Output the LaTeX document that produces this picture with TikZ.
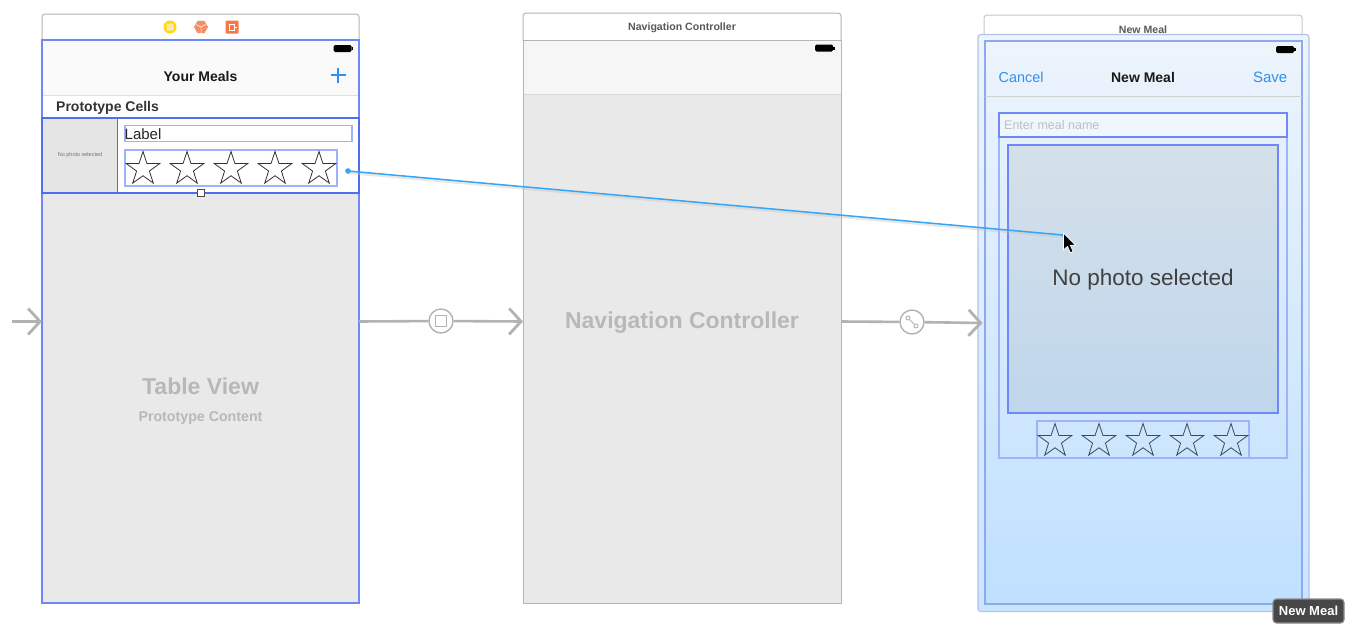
\documentclass[tikz,border=0pt]{standalone}
\usepackage{fontspec}
\setmainfont{Liberation Sans}
\usetikzlibrary{shapes.geometric,arrows.meta,calc}
\definecolor{selblue}{HTML}{6F88F5}
\definecolor{cellblue}{HTML}{4F6FF2}
\definecolor{softblue}{HTML}{9DB4FA}
\definecolor{frameline}{HTML}{B5B5B5}
\definecolor{graybody}{HTML}{E9E9E9}
\definecolor{segue}{HTML}{B2B2B2}
\definecolor{ios}{HTML}{2E8FF0}
\definecolor{iconorange}{HTML}{F5794A}
\definecolor{drag}{HTML}{35A5F5}
\definecolor{sceneTop}{HTML}{EDF4FC}
\definecolor{sceneBot}{HTML}{BFE0FF}
\definecolor{outerBot}{HTML}{CBE5FF}
\definecolor{outerLine}{HTML}{AFC4E8}
\definecolor{viewLine}{HTML}{8DA9F0}
\definecolor{photoTop}{HTML}{D5E0E9}
\definecolor{photoBot}{HTML}{BFD6EC}
\definecolor{fieldFill}{HTML}{EFF6FE}
\definecolor{starInk}{HTML}{3C4A5C}
\tikzset{
  x=1pt,y=-1pt,
  box/.style={rectangle,inner sep=0pt,outer sep=0pt,anchor=north west},
  titlebar/.style={box,draw=frameline,fill=white,line width=1pt,rounded corners=3pt},
  ratingstar/.style={star,star points=5,star point ratio=2.6,draw=#1,fill=none,line width=.8pt,minimum size=35pt,inner sep=0pt},
  ratingstar/.default=black!80,
  segueline/.style={draw=segue,line width=2.6pt},
  seguetip/.style={segueline,-{Straight Barb[length=12pt,width=26pt,line width=2.8pt]}},
  seguecircle/.style={circle,draw=segue,fill=white,line width=1.4pt,minimum size=24pt,inner sep=0pt},
  navtitle/.style={font=\fontsize{14}{14}\selectfont\bfseries,text=black!90},
  scenetitle/.style={font=\fontsize{10.6}{10.6}\selectfont\bfseries,text=black!65},
  barbtn/.style={font=\fontsize{14.4}{14.4}\selectfont,text=ios},
  placeholder/.style={font=\fontsize{23}{23}\selectfont\bfseries,text=black!28},
  battery/.style={box,fill=black,rounded corners=1.5pt,minimum width=18pt,minimum height=7pt},
}
\newcommand{\mkbattery}[3]{%
  \node[battery] (#1) at (#2,#3) {};
  \fill (#1.east) ++(0,-1.5) rectangle ++(1.5,3);
}
\begin{document}
\begin{tikzpicture}
\useasboundingbox (0,0) rectangle (1360,640);
\fill[white] (0,0) rectangle (1360,640);

% ---------- Scene 1 ----------
\node[titlebar,minimum width=317pt,minimum height=30pt] (head1) at (42,14) {};
\node[box,fill=white,minimum width=317pt,minimum height=563pt] (view1) at (42,40) {};
\node[box,fill=graybody,minimum width=316pt,minimum height=410pt] (table1) at (43,193) {};
\node[box,fill=black!2,minimum width=316pt,minimum height=54pt] (nav1) at (43,41) {};
\draw[black!12,line width=.8pt] (nav1.south west) -- (nav1.south east);
\draw[selblue,line width=1.5pt] (view1.north west) rectangle (view1.south east);
\node[circle,fill=yellow!80!orange,minimum size=13pt,inner sep=0pt] (ic1) at (170,27) {};
\node[box,anchor=center,fill=yellow!25!orange!25,minimum size=7pt,rounded corners=1pt] (ic1b) at (170,27) {};
\node[regular polygon,regular polygon sides=6,fill=iconorange!85,minimum size=14pt,inner sep=0pt] (ic2) at (201,27) {};
\draw[white,line width=.5pt] (ic2.center) -- ++(-5,-2.5) (ic2.center) -- ++(5,-2.5) (ic2.center) -- ++(0,6);
\node[box,anchor=center,fill=iconorange,minimum size=13pt,rounded corners=1pt] (ic3) at (232,27) {};
\draw[white,line width=.9pt] (229,24) rectangle (234,30) (234,27) -- (237,27);
\mkbattery{bat1}{333.5}{45}
\node[navtitle] (title1) at (200.5,76) {Your Meals};
\node[box,minimum size=15pt,anchor=center] (plus) at (338,75) {};
\draw[ios,line width=1.2pt] (plus.north) -- (plus.south) (plus.west) -- (plus.east);
\node[anchor=west,inner sep=0pt,font=\fontsize{14}{14}\selectfont\bfseries,text=black!80] (proto) at (56,108) {Prototype Cells};
\node[box,fill=white,draw=none,minimum width=317pt,minimum height=75pt] (cell) at (42,118) {};
\node[box,fill=black!10,minimum width=74pt,minimum height=74pt] (photo1) at (43,118.5) {};
\node[font=\fontsize{5.5}{5.5}\selectfont,text=black!55] (photo1t) at (80,155.5) {No photo selected};
\draw[cellblue,line width=1.3pt] (cell.north west) rectangle (cell.south east);
\draw[cellblue,line width=.9pt] (photo1.north east) -- (photo1.south east);
\node[box,draw=softblue,line width=1.3pt,fill=white,minimum width=227pt,minimum height=16pt,anchor=north west] (label) at (125,125.5) {};
\node[anchor=west,inner sep=0pt,font=\fontsize{15}{15}\selectfont,text=black!85] (labelt) at (124.5,134) {Label};
\node[box,draw=softblue,line width=1.3pt,minimum width=212pt,minimum height=36pt] (rating1) at (125,150) {};
\foreach \i/\x in {a/143,b/187,c/231,d/275,e/319}
  \node[ratingstar] (s1\i) at (\x,169) {};
\node[box,anchor=center,draw=black!70,fill=white,line width=.9pt,minimum size=7pt] (grip) at (200.5,193) {};
\node[placeholder] (tv) at (200.5,386) {Table View};
\node[font=\fontsize{14.2}{14.2}\selectfont\bfseries,text=black!28] (pc) at (200.5,418) {Prototype Content};

% ---------- Scene 2 ----------
\node[titlebar,minimum width=318pt,minimum height=30pt] (head2) at (523,13) {};
\node[box,fill=graybody,draw=frameline,line width=1pt,minimum width=318pt,minimum height=563pt] (view2) at (523,40) {};
\node[box,fill=black!3.5,minimum width=317pt,minimum height=54pt] (nav2) at (523.5,40.5) {};
\draw[black!15,line width=.8pt] (nav2.south west) -- (nav2.south east);
\node[scenetitle] (t2) at (682,28) {Navigation Controller};
\mkbattery{bat2}{815}{44.5}
\node[placeholder] (nc) at (682,323) {Navigation Controller};

% ---------- Scene 3 ----------
\node[titlebar,draw=black!22,minimum width=318pt,minimum height=30pt] (head3) at (984,15) {};
\node[scenetitle] (t3) at (1143,29.5) {New Meal};
\node[box,draw=outerLine,line width=1.2pt,top color=sceneTop,bottom color=outerBot,rounded corners=3pt,minimum width=331pt,minimum height=577pt] (sel3) at (978,34.5) {};
\node[box,top color=sceneTop,bottom color=sceneBot,minimum width=317pt,minimum height=563pt] (view3) at (985,41) {};
\draw[viewLine,line width=1.5pt] (view3.north west) rectangle (view3.south east);
\draw[black!18,line width=.8pt] (985,96) -- (1302,96);
\mkbattery{bat3}{1276}{46}
\node[barbtn,anchor=west,inner sep=0pt] (cancel) at (998.5,77) {Cancel};
\node[navtitle] (t3b) at (1143,77) {New Meal};
\node[anchor=east,inner sep=0pt,text=ios,font=\fontsize{15}{15}\selectfont] (save) at (1287.5,77) {Save};
\node[box,draw=softblue,line width=1.2pt,minimum width=288pt,minimum height=321pt] (stack3) at (999,137) {};
\node[box,draw=selblue,line width=1.2pt,fill=fieldFill,minimum width=288pt,minimum height=24pt] (field) at (999,113) {};
\node[anchor=west,inner sep=0pt,font=\fontsize{12.5}{12.5}\selectfont,text=black!25] (fieldt) at (1004,125) {Enter meal name};
\node[box,draw=selblue,line width=1.2pt,top color=photoTop,bottom color=photoBot,minimum width=270pt,minimum height=268pt] (photo3) at (1008,145) {};
\node[font=\fontsize{22.5}{22.5}\selectfont,text=black!75] (photo3t) at (1143,280) {No photo selected};
\node[box,draw=softblue,line width=1.2pt,minimum width=212pt,minimum height=37pt] (rating3) at (1037,421) {};
\foreach \i/\x in {a/1055,b/1099,c/1143,d/1187,e/1231}
  \node[ratingstar=starInk] (s3\i) at (\x,441) {};

% ---------- Connectors ----------
\coordinate (entry) at (12,321.5);
\draw[seguetip] (entry) -- (view1.west);
\node[seguecircle] (seg1) at (441,321) {};
\node[box,anchor=center,draw=segue,line width=1.3pt,minimum size=11pt] (seg1b) at (seg1) {};
\draw[segueline] (view1.east) -- (seg1);
\draw[seguetip] (seg1) -- (view2.west);
\node[seguecircle] (seg2) at (912,322) {};
\draw[segue,line width=1pt] (908,318) -- (916,326);
\draw[segue,line width=.9pt,fill=white] (908,318) circle (2pt) (916,326) circle (2pt);
\draw[segueline] (view2.east) -- (seg2);
\coordinate (seg2end) at ($(sel3.west)+(4.5,0)$);
\draw[seguetip] (seg2) -- (seg2end);

% ---------- Drag line ----------
\coordinate (dragstart) at (348,171);
\coordinate (dragend) at (1063,235);
\draw[black!25,line width=3pt,opacity=.35] ($(dragstart)+(0,1.5)$) -- ($(dragend)+(0,1.5)$);
\draw[drag,line width=1.5pt] (dragstart) -- (dragend);
\fill[drag] (dragstart) circle (2.8pt);
\fill[drag] (dragend) circle (1.8pt);
\draw[white,line width=.8pt,fill=black,line join=round,shift={(1063.5,233)},scale=1.1]
  (0,0) -- (0,15.5) -- (3.6,12.2) -- (6.2,18) -- (8.8,16.8) -- (6.2,11.2) -- (11,11) -- cycle;

% ---------- Tooltip ----------
\node[box,fill=black!72,draw=black!45,line width=1.2pt,rounded corners=3.5pt,minimum width=71pt,minimum height=24pt,
  text=white,font=\fontsize{13}{13}\selectfont\bfseries,align=center] (tip) at (1273,599) {New Meal};
\end{tikzpicture}
\end{document}
